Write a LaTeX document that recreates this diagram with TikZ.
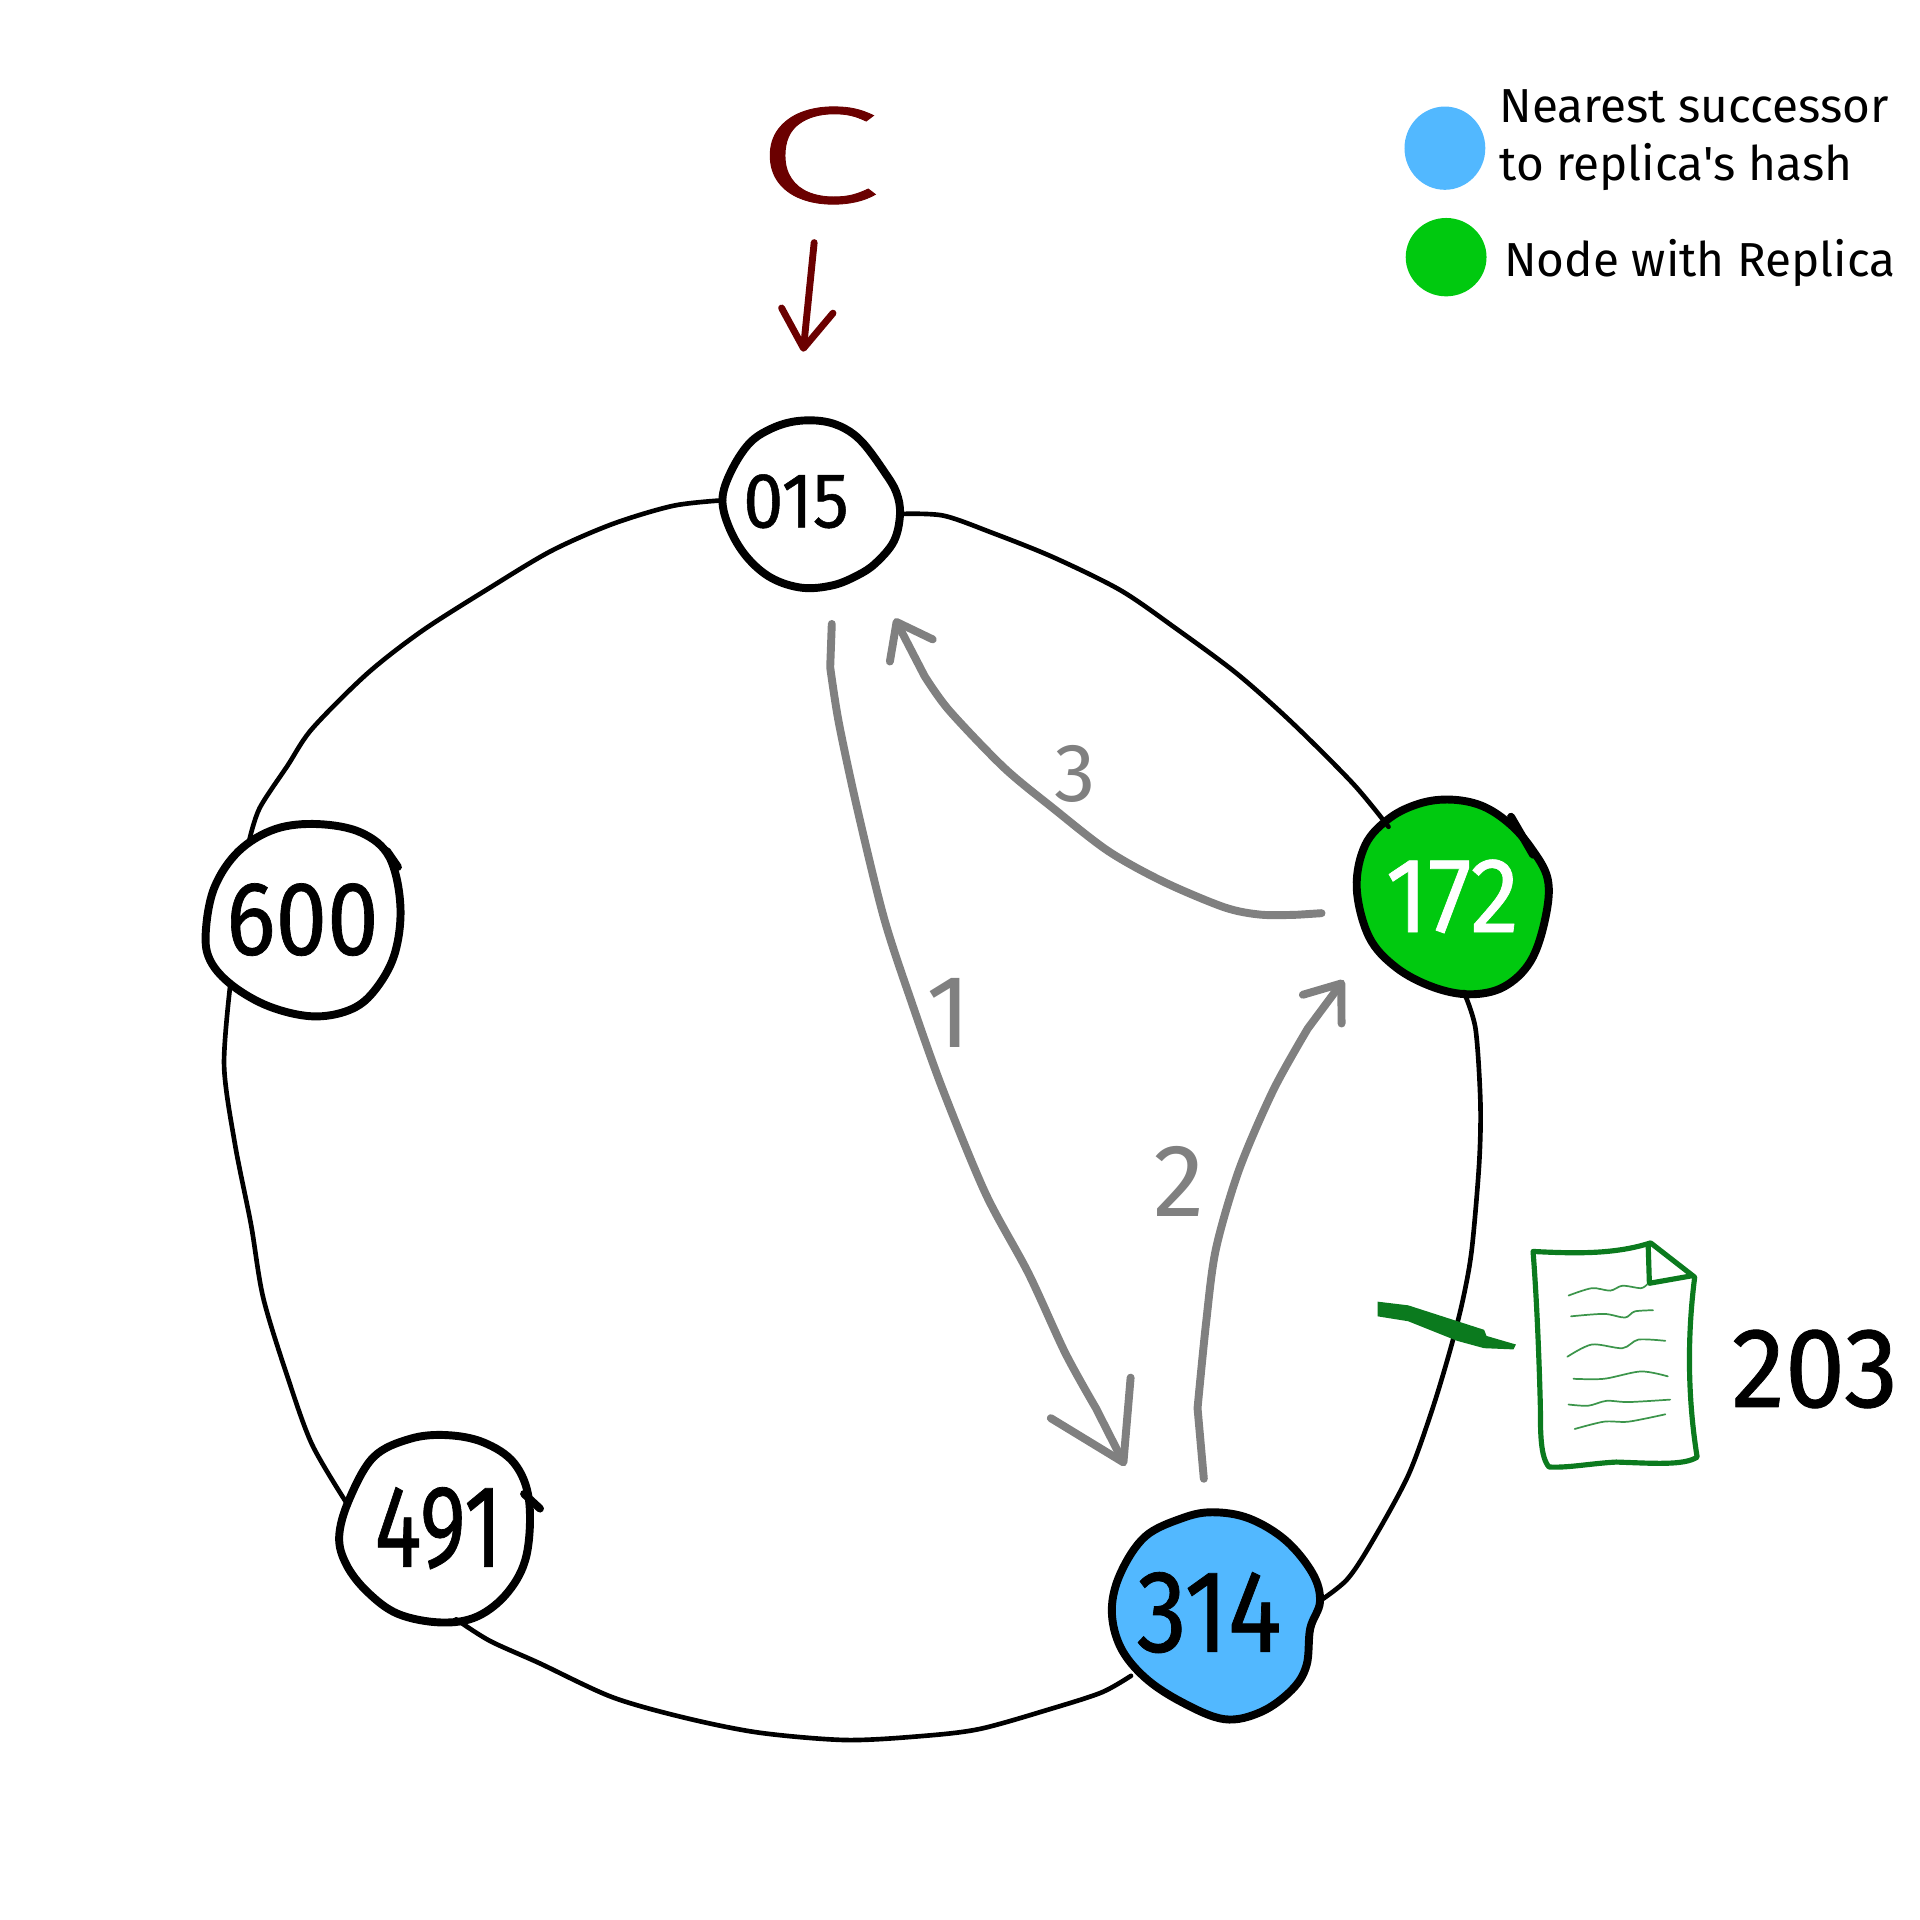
\documentclass[tikz,border=0pt]{standalone}
\usepackage{fontspec}
\usepackage{graphicx}
\usetikzlibrary{arrows.meta}
\setmainfont{Fira Sans}
\newfontfamily\handfont[FakeBold=0.7]{Fira Sans}
\newfontfamily\handlight{Fira Sans}
\newfontfamily\thinfont[FakeBold=0.6]{Fira Sans Light}
\definecolor{nodeblue}{HTML}{52B8FF}
\definecolor{nodegreen}{HTML}{00C90F}
\definecolor{docgreen}{HTML}{0B7A1E}
\definecolor{clientred}{HTML}{6B0000}
\definecolor{stepgray}{HTML}{808080}
\tikzset{
  ring/.style={line width=1.35pt,line cap=round,line join=round,black},
  outline/.style={line width=2.3pt,line join=round,black},
  ringnode/.style={circle,inner sep=0pt,outer sep=0pt,font=\handfont},
  grayarrow/.style={line width=2.3pt,line cap=round,line join=round,stepgray},
  smalltip/.style={-{Straight Barb[length=9.3pt,width=14pt,round]}},
  bigtip/.style={-{Straight Barb[length=21pt,width=26pt,round]}},
  docline/.style={line width=1.5pt,line cap=round,line join=round,docgreen},
  docthin/.style={line width=.5pt,line cap=round,docgreen!80},
  legend/.style={anchor=base west,inner sep=0pt,font=\fontsize{13.85}{16}\selectfont},
  steplabel/.style={inner sep=0pt,text=stepgray,font=\handlight}
}
\begin{document}
\begin{tikzpicture}[x=0.0125cm,y=-0.0125cm]
\useasboundingbox (0,0) rectangle (1568,1568);
% hand drawn outlines
\draw[outline] plot[smooth cycle,tension=.6] coordinates {(590,408) (597,385) (612,362) (630,350) (650,344) (672,344) (690,350) (705,362) (722,385) (732,402) (735,420) (730,442) (715,460) (700,470) (680,478) (655,480) (630,472) (610,455) (596,432)};
\draw[outline,fill=nodegreen] plot[smooth cycle,tension=.6] coordinates {(1108,725) (1115,690) (1135,668) (1160,656) (1185,653) (1210,658) (1232,672) (1250,692) (1264,718) (1262,750) (1250,785) (1228,806) (1200,812) (1170,806) (1140,790) (1118,765)};
\draw[outline,line cap=round] (1234,667) -- (1252,698);
\draw[outline,fill=nodeblue] plot[smooth cycle,tension=.6] coordinates {(908,1315) (915,1285) (935,1255) (965,1240) (990,1235) (1020,1240) (1050,1258) (1072,1285) (1078,1308) (1070,1330) (1067,1360) (1055,1380) (1030,1398) (1000,1404) (965,1390) (935,1370) (915,1345)};
\draw[outline] plot[smooth cycle,tension=.6] coordinates {(277,1255) (285,1225) (305,1190) (335,1175) (365,1172) (395,1178) (420,1195) (432,1225) (430,1270) (415,1300) (390,1320) (360,1325) (325,1318) (300,1300) (283,1278)};
\draw[outline,line cap=round] (428,1220) -- (441,1232);
\draw[outline] plot[smooth cycle,tension=.6] coordinates {(168,762) (175,725) (195,695) (225,677) (260,673) (295,680) (318,700) (327,740) (322,780) (305,810) (285,825) (255,830) (220,822) (190,805) (172,785)};
\draw[outline,line cap=round] (316,695) -- (325,708);
% nodes
\node[ringnode,minimum size=51pt] (n015) at (663,411) {\fontsize{22.7}{24}\selectfont\kern-4.6pt\raisebox{1.4pt}{\scalebox{.92}[1]{015}}\kern4.6pt};
\node[ringnode,minimum size=55.3pt,text=white] (n172) at (1186,733) {\fontsize{31}{33}\selectfont\raisebox{1pt}{\scalebox{.92}[1]{172}}};
\node[ringnode,minimum size=60.2pt] (n314) at (993,1320) {\fontsize{34}{36}\selectfont\kern-2pt\raisebox{2.6pt}{\scalebox{.86}[1]{314}}\kern2pt};
\node[ringnode,minimum size=53.9pt] (n491) at (358,1248) {\fontsize{34}{36}\selectfont\raisebox{-.5pt}{\scalebox{.75}[1]{491}}};
\node[ringnode,minimum size=55.3pt] (n600) at (247,751) {\fontsize{30.5}{32}\selectfont\raisebox{-1.5pt}{\scalebox{.88}[1]{600}}};
% ring
\draw[ring] plot[smooth,tension=.5] coordinates {(n015.-7) (770,421) (810,435) (860,455) (915,482) (960,513) (1010,550) (1055,590) (1105,640) (n172.132)};
\draw[ring] plot[smooth,tension=.5] coordinates {(n172.-83) (1205,840) (1209,900) (1208,950) (1202,1020) (1195,1060) (1185,1100) (1170,1150) (1150,1205) (1120,1260) (1100,1290) (n314.8)};
\draw[ring] plot[smooth,tension=.5] coordinates {(n314.215) (900,1382) (860,1395) (800,1412) (750,1418) (690,1421) (620,1415) (560,1403) (500,1386) (440,1358) (400,1340) (n491.-79)};
\draw[ring] plot[smooth,tension=.5] coordinates {(n491.166) (255,1180) (235,1125) (215,1060) (205,1000) (192,935) (183,870) (n600.221)};
\draw[ring] plot[smooth,tension=.5] coordinates {(n600.124) (212,660) (235,625) (255,595) (300,550) (345,515) (400,480) (450,450) (500,428) (550,413) (n015.178)};
% client
\node[inner sep=0pt,text=clientred] (nC) at (668,127) {\thinfont\fontsize{40}{42}\selectfont\scalebox{1.65}[1]{C}};
\draw[line width=2pt,line cap=round,clientred,-{Straight Barb[length=11pt,width=15pt,round]},shorten <=11pt,shorten >=19pt] (nC.south) -- (n015.100);
% steps
\draw[grayarrow,bigtip,shorten <=10.3pt,shorten >=21pt] (n015.-76) -- plot[smooth,tension=.5] coordinates {(678,545) (685,590) (700,660) (722,750) (745,820) (770,890) (805,975) (840,1040) (870,1105) (895,1150)} -- (n314.124);
\draw[grayarrow,smalltip,shorten <=10pt,shorten >=12.7pt] (n314.95) -- plot[smooth,tension=.5] coordinates {(978,1150) (985,1080) (993,1020) (1012,955) (1040,890) (1068,840)} -- (n172.210);
\draw[grayarrow,smalltip,shorten <=10.6pt,shorten >=16pt] (n172.188) -- plot[smooth,tension=.5] coordinates {(1060,747) (1030,747) (1000,741) (950,720) (905,695) (860,660) (820,627) (775,580) (755,552)} -- (n015.-49);
\node[steplabel,font=\handlight\fontsize{30}{32}\selectfont] (s1) at (775,827) {1};
\node[steplabel,font=\handlight\fontsize{30}{32}\selectfont] (s2) at (963,965) {2};
\node[steplabel,font=\handlight\fontsize{24}{26}\selectfont] (s3) at (878,632) {3};
% legend
\fill[nodeblue] (1180,121) ellipse [x radius=33,y radius=34];
\fill[nodegreen] (1181,210) ellipse [x radius=33,y radius=32];
\node[legend] (l1) at (1224,100) {Nearest successor};
\node[legend] (l2) at (1224,147) {to replica\textquotesingle s hash};
\node[legend] (l3) at (1228,226) {Node with Replica};
% document
\draw[docline] (1252,1022) .. controls (1290,1024) and (1320,1024) .. (1348,1015) -- (1384,1043) .. controls (1378,1090) and (1378,1140) .. (1386,1190) .. controls (1375,1197) and (1350,1195) .. (1320,1194) .. controls (1300,1195) and (1280,1199) .. (1265,1198) .. controls (1258,1190) and (1258,1170) .. (1258,1150) .. controls (1257,1110) and (1255,1060) .. cycle;
\draw[docline] (1346,1016) -- (1347,1048) -- (1381,1042);
\draw[docthin] plot[smooth] coordinates {(1281,1058) (1300,1052) (1315,1054) (1325,1050) (1340,1052) (1345,1049)};
\draw[docthin] plot[smooth] coordinates {(1283,1075) (1310,1073) (1327,1076) (1335,1071) (1350,1070)};
\draw[docthin] plot[smooth] coordinates {(1280,1108) (1300,1098) (1325,1101) (1338,1094) (1360,1095)};
\draw[docthin] plot[smooth] coordinates {(1285,1126) (1310,1126) (1340,1120) (1362,1124)};
\draw[docthin] plot[smooth] coordinates {(1281,1147) (1297,1148) (1312,1144) (1330,1145) (1364,1143)};
\draw[docthin] plot[smooth] coordinates {(1286,1167) (1310,1161) (1330,1161) (1360,1155)};
% pen
\fill[docgreen,line join=round] (1125,1063) -- (1150,1066) -- (1212,1086) -- (1214,1091) -- (1238,1098) -- (1236,1102) -- (1212,1101) -- (1190,1095) -- (1150,1079) -- (1125,1075) -- cycle;
\node[inner sep=0pt,font=\handfont\fontsize{33}{35}\selectfont] (t203) at (1482,1118) {\scalebox{.95}[1]{203}};
\end{tikzpicture}
\end{document}
